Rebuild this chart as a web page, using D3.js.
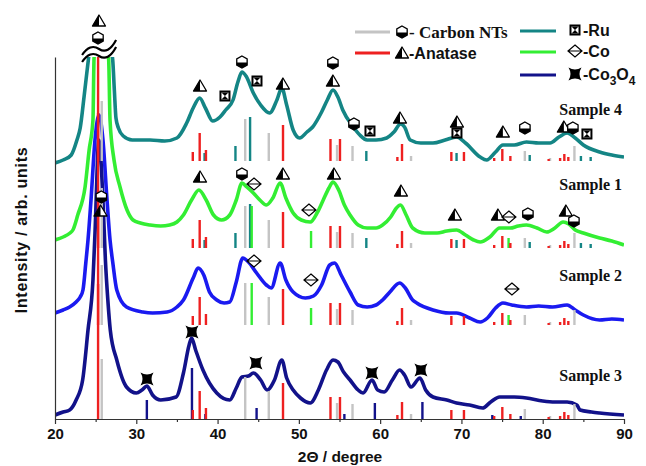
<!DOCTYPE html>
<html><head><meta charset="utf-8">
<script src="https://cdn.jsdelivr.net/npm/d3@7/dist/d3.min.js"></script>
<style>body{margin:0;background:#fff}svg{display:block}</style>
</head><body><svg id="c" width="646" height="466"></svg>
<script>
// ---------- DATA (2θ in degrees, intensity in arb. units) ----------
const xTicks = [20, 30, 40, 50, 60, 70, 80, 90];
const xMinorTicks = [25, 35, 45, 55, 65, 75, 85];

const sample4 = [[20.0,256],[21.0,259],[22.0,264],[22.7,279],[23.1,291],[23.6,324],[24.1,359],[24.6,390],[25.3,420],[26.4,390],[27.1,359],[27.3,329],[27.5,301],[27.8,291],[28.4,283],[29.5,279],[31.7,279],[33.5,278],[35.0,281],[36.2,296],[37.0,311],[37.8,321],[38.5,311],[39.4,298],[40.3,302],[41.0,309],[41.9,319],[42.5,337],[43.0,347],[43.5,343],[44.4,326],[45.3,314],[46.4,306],[47.3,319],[47.9,331],[48.5,314],[49.3,289],[50.1,281],[51.0,287],[51.7,292],[52.8,307],[53.5,319],[54.2,329],[54.8,322],[55.4,309],[56.7,292],[57.5,284],[58.4,279],[59.5,279],[60.8,281],[61.7,287],[62.5,295],[63.0,292],[63.7,279],[65.0,276],[66.5,276],[68.0,279],[69.4,282],[70.5,276],[72.3,262],[73.1,259],[74.2,267],[75.1,274],[76.5,274],[78.0,277],[79.5,276],[80.9,276],[82.0,282],[83.0,286],[84.0,281],[85.0,274],[87.0,267],[88.5,264],[90.0,262]];

const sample1 = [[20.0,179],[21.0,182],[21.85,186],[22.2,189],[22.8,204],[23.7,232],[24.2,269],[24.67,299],[24.8,360],[25.4,420],[26.6,360],[26.77,299],[27.26,259],[28.0,232],[28.86,209],[29.6,199],[30.5,196],[31.7,194],[33.0,193],[34.1,194],[35.0,197],[35.8,204],[36.8,219],[37.7,229],[38.6,219],[39.5,204],[40.5,199],[41.5,204],[42.3,219],[43.0,236],[43.6,232],[44.4,226],[45.2,219],[46.0,214],[46.8,221],[47.7,236],[48.4,221],[49.3,206],[50.3,199],[51.4,197],[52.3,207],[53.0,219],[53.7,231],[54.2,237],[54.9,229],[55.6,214],[56.3,204],[57.3,194],[58.4,191],[59.5,191],[60.3,194],[61.3,202],[62.0,211],[62.5,214],[63.2,204],[64.0,191],[65.5,186],[67.0,186],[68.2,188],[69.4,189],[70.5,184],[71.5,179],[72.3,177],[73.5,182],[74.7,191],[76.0,191],[77.0,193],[78.0,194],[79.3,191],[80.5,187],[81.5,191],[82.5,197],[83.2,195],[84.0,189],[85.0,186],[87.0,181],[88.5,178],[90.0,174]];

const sample2 = [[20.0,106],[21.0,109],[21.8,112],[22.6,117],[23.1,122],[23.44,129],[23.8,157],[24.06,179],[24.43,219],[24.92,279],[25.41,304],[25.9,279],[26.4,219],[26.77,179],[27.1,157],[27.6,129],[28.8,112],[30.8,107],[32.0,106],[33.8,107],[35.0,112],[35.8,119],[37.0,141],[37.6,151],[38.3,144],[39.0,127],[39.9,119],[40.8,116],[41.5,117],[42.3,137],[43.1,161],[43.8,157],[44.8,146],[46.0,134],[46.6,131],[47.7,156],[48.4,139],[49.3,127],[50.8,121],[51.8,123],[52.8,134],[53.8,154],[54.4,156],[55.2,144],[56.3,127],[57.3,114],[58.4,112],[59.5,114],[60.3,119],[61.2,127],[62.4,136],[63.1,131],[64.0,119],[64.5,116],[66.5,109],[68.5,106],[69.4,106],[71.0,101],[72.3,97],[73.2,101],[74.2,111],[75.1,116],[76.2,114],[78.0,112],[79.5,113],[81.2,112],[83.0,114],[84.0,109],[85.0,104],[87.0,99],[88.5,100],[90.0,99]];

const sample3 = [[20.0,4],[21.0,7],[21.8,9],[22.6,19],[23.4,39],[24.06,89],[24.67,139],[24.92,186],[25.4,279],[25.9,219],[26.2,159],[26.5,119],[26.8,89],[27.6,59],[28.8,32],[30.0,26],[30.7,29],[31.3,33],[32.0,24],[33.0,19],[34.9,22],[35.8,46],[36.5,74],[36.8,81],[37.3,69],[38.2,49],[39.9,26],[41.5,19],[42.3,31],[43.0,42],[43.8,43],[44.4,46],[45.3,39],[46.1,29],[47.0,39],[47.9,59],[48.5,41],[49.3,29],[50.2,21],[51.4,16],[52.4,29],[53.4,49],[54.2,59],[54.8,57],[55.5,47],[56.3,39],[57.3,29],[57.9,26],[59.0,39],[59.7,29],[60.5,27],[61.5,39],[62.4,49],[63.0,44],[63.8,32],[64.9,41],[65.6,29],[66.5,22],[68.2,19],[69.4,16],[71.0,14],[72.6,11],[73.6,17],[74.7,22],[76.5,22],[78.0,21],[80.0,18],[81.5,17],[83.0,17],[84.2,14],[84.6,9],[86.0,7],[87.0,6],[90.0,4]];

// reference patterns: [2θ, relative stick height]
const anatase = [[25.3,135],[36.95,9],[37.8,28],[38.57,11],[48.05,36],[53.89,22],[55.06,22],[62.12,4],[62.69,17],[68.76,9],[70.31,9],[74.03,3],[75.03,12],[76.02,5],[80.73,2],[82.14,3],[82.66,7],[83.15,4]];
const carbonNT = [[25.75,60],[43.4,42],[46.3,28],[54.7,16],[56.6,15],[63.8,5],[77.8,10],[80.9,3],[83.9,15]];
const ruthenium = [[38.4,8],[42.2,15],[44.0,44],[58.3,10],[69.4,8],[78.4,6],[84.7,5],[85.9,4]];
const cobalt = [[44.2,42],[51.5,17],[75.8,10]];
const cobaltOxide = [[31.3,19],[36.85,51],[38.5,5],[44.8,11],[55.6,5],[59.35,16],[65.2,17],[73.8,4],[77.3,3]];

// stick baselines per sample
const sampleNames = ["Sample 4", "Sample 1", "Sample 2", "Sample 3"];
const stickBase = [258, 171, 94, 0];
const labelLevel = [304, 229, 138, 38];

// peak-assignment symbols: [symbol, 2θ, intensity]
const markers = [
  ["tri",25.41,398],["hex",25.29,381],
  ["tri",37.84,333],["ru",40.91,323],["hex",43.0,357],["ru",44.85,338],["tri",48.04,335],["hex",54.19,356],["tri",54.19,338],
  ["hex",56.78,295],["ru",58.75,288],["tri",62.44,301],["tri",69.45,297],["ru",69.45,286],["tri",75.1,287],["hex",77.81,291],
  ["tri",82.6,292],["hex",83.71,291],["ru",85.44,285],
  ["tri",37.84,242],["hex",43.0,245],["co",44.48,235],["tri",48.04,245],["co",51.24,209],["tri",54.32,245],["tri",62.56,228],
  ["tri",69.2,204],["tri",74.49,204],["co",75.84,202],["hex",78.18,205],["tri",82.85,208],["hex",83.84,198],
  ["hex",25.7,222],["tri",25.6,208],["co",44.48,158],["co",51.49,139],["co",76.21,130],
  ["star",31.32,40],["star",36.85,87],["star",44.72,56],["star",58.99,46],["star",65.02,49]
];

const colors = {s4:"#148585", s1:"#33ee33", s2:"#1a1af0", s3:"#12128a", red:"#ee2020", grey:"#c4c4c4"};

// ---------- CHART ----------
const svg = d3.select("#c");
const x = d3.scaleLinear().domain([20, 90]).range([55, 624]);
const y = d3.scaleLinear().domain([0, 362]).range([419, 57]);

svg.append("defs").append("clipPath").attr("id", "clip")
  .append("rect").attr("x", 55).attr("y", 57).attr("width", 569).attr("height", 362);

const plot = svg.append("g").attr("clip-path", "url(#clip)");
const line = d3.line().x(d => x(d[0])).y(d => y(d[1])).curve(d3.curveMonotoneX);

const traces = [[sample4, colors.s4], [sample1, colors.s1], [sample2, colors.s2], [sample3, colors.s3]];
traces.forEach(([data, col]) => {
  plot.append("path").datum(data).attr("d", line)
    .attr("fill", "none").attr("stroke", col).attr("stroke-width", 3.6)
    .attr("stroke-linejoin", "round");
});

// stick patterns
const sampleSets = [
  [[carbonNT, colors.grey], [ruthenium, colors.s4], [anatase, colors.red]],
  [[carbonNT, colors.grey], [ruthenium, colors.s4], [cobalt, colors.s1], [anatase, colors.red]],
  [[carbonNT, colors.grey], [cobalt, colors.s1], [anatase, colors.red]],
  [[carbonNT, colors.grey], [cobaltOxide, colors.s3], [anatase, colors.red]]
];
sampleSets.forEach((sets, i) => {
  const base = stickBase[i];
  sets.forEach(([pat, col]) => {
    plot.append("g").selectAll("line").data(pat).join("line")
      .attr("x1", d => x(d[0])).attr("x2", d => x(d[0]))
      .attr("y1", y(base)).attr("y2", d => y(base + d[1]))
      .attr("stroke", col).attr("stroke-width", 2.4);
  });
});

// axes
const axB = svg.append("g").attr("transform", `translate(0,${y(0)})`)
  .call(d3.axisBottom(x).tickValues(xTicks).tickSize(5).tickSizeOuter(0).tickPadding(4));
axB.select(".domain").attr("stroke", "#333").attr("stroke-width", 1.2);
axB.selectAll(".tick line").attr("stroke", "#333").attr("stroke-width", 1.2);
axB.selectAll("text").attr("font-family", "Liberation Sans, Arial, sans-serif")
  .attr("font-weight", "bold").attr("font-size", "15px").attr("fill", "#111");
const axM = svg.append("g").attr("transform", `translate(0,${y(0)})`)
  .call(d3.axisBottom(x).tickValues(xMinorTicks).tickSize(3).tickFormat(""));
axM.select(".domain").remove();
axM.selectAll(".tick line").attr("stroke", "#333").attr("stroke-width", 1.2);

const axL = svg.append("g").attr("transform", `translate(${x(20)},0)`)
  .call(d3.axisLeft(y).tickValues([]).tickSizeOuter(0));
axL.select(".domain").attr("stroke", "#333").attr("stroke-width", 1.2);

svg.append("text").attr("x", 340).attr("y", 462).attr("text-anchor", "middle")
  .attr("font-family", "Liberation Sans, Arial, sans-serif").attr("font-weight", "bold")
  .attr("font-size", "15.5px").attr("fill", "#111").text("2Θ / degree");
svg.append("text").attr("transform", "translate(27,230) rotate(-90)").attr("text-anchor", "middle")
  .attr("font-family", "Liberation Sans, Arial, sans-serif").attr("font-weight", "bold")
  .attr("font-size", "16px").attr("letter-spacing", "0.7px").attr("fill", "#111").text("Intensity / arb. units");

// sample labels
sampleNames.forEach((name, i) => {
  svg.append("text").attr("x", 622).attr("y", y(labelLevel[i])).attr("text-anchor", "end")
    .attr("font-family", "Liberation Serif, Times New Roman, serif").attr("font-weight", "bold")
    .attr("font-size", "16px").attr("fill", "#111").text(name);
});

// symbols
function drawSymbol(g, type) {
  if (type === "tri") {
    g.append("path").attr("d", "M0,-6 L6.5,5 L-6.5,5 Z").attr("fill", "#fff").attr("stroke", "#000").attr("stroke-width", 1.3).attr("stroke-linejoin", "round");
    g.append("path").attr("d", "M0,-6 L0,5 L-6.5,5 Z").attr("fill", "#000");
  } else if (type === "hex") {
    g.append("path").attr("d", "M0,-6 L5.2,-3 L5.2,3 L0,6 L-5.2,3 L-5.2,-3 Z").attr("fill", "#fff").attr("stroke", "#000").attr("stroke-width", 1.3);
    g.append("path").attr("d", "M-5.2,0.6 L5.2,0.6 L5.2,3 L0,6 L-5.2,3 Z").attr("fill", "#000");
  } else if (type === "ru") {
    g.append("rect").attr("x", -4.5).attr("y", -4.5).attr("width", 9).attr("height", 9).attr("fill", "#fff").attr("stroke", "#000").attr("stroke-width", 2);
    g.append("path").attr("d", "M-3.5,-3.5 L3.5,-3.5 L0,0 Z M-3.5,3.5 L3.5,3.5 L0,0 Z").attr("fill", "#000");
  } else if (type === "co") {
    g.append("path").attr("d", "M0,-6 L7,0 L0,6 L-7,0 Z M-7,0 L7,0").attr("fill", "#fff").attr("stroke", "#000").attr("stroke-width", 1.2);
  } else if (type === "star") {
    g.append("path").attr("d", "M-6.5,-6.5 Q0,-2.5 6.5,-6.5 Q2.5,0 6.5,6.5 Q0,2.5 -6.5,6.5 Q-2.5,0 -6.5,-6.5 Z").attr("fill", "#000");
  }
}
markers.forEach(([t, th, v]) => {
  const g = svg.append("g").attr("transform", `translate(${x(th)},${y(v)})`);
  drawSymbol(g, t);
});

// axis break mark on the clipped 25° peak
const bx = x(25.3), by = y(362);
[0, 7].forEach(off => {
  svg.append("path")
    .attr("d", `M${bx-16},${by-2+off} Q${bx-8},${by-14+off} ${bx+1},${by-8+off} T${bx+18},${by-17+off}`)
    .attr("fill", "none").attr("stroke", "#000").attr("stroke-width", 2.2);
});

// legend
const legL = [[colors.grey, "hex", "- Carbon NTs", "serif"], [colors.red, "tri", "-Anatase", "sans"]];
const legR = [[colors.s4, "ru", "-Ru"], [colors.s1, "co", "-Co"], [colors.s3, "star", null]];
legL.forEach(([col, sym, txt, fam], i) => {
  const yy = 32 + i * 21;
  svg.append("line").attr("x1", 355).attr("x2", 390).attr("y1", yy).attr("y2", yy).attr("stroke", col).attr("stroke-width", 3);
  drawSymbol(svg.append("g").attr("transform", `translate(402,${yy})`), sym);
  svg.append("text").attr("x", 409).attr("y", yy + 6)
    .attr("font-family", fam === "serif" ? "Liberation Serif, Times New Roman, serif" : "Liberation Sans, Arial, sans-serif")
    .attr("font-weight", "bold").attr("font-size", fam === "serif" ? "17px" : "16px").attr("fill", "#111").text(txt);
});
legR.forEach(([col, sym, txt], i) => {
  const yy = [31, 52, 75][i];
  svg.append("line").attr("x1", 520).attr("x2", 556).attr("y1", yy).attr("y2", yy).attr("stroke", col).attr("stroke-width", 3);
  drawSymbol(svg.append("g").attr("transform", `translate(575,${yy - 1})`), sym);
  const t = svg.append("text").attr("x", 583).attr("y", yy + 5)
    .attr("font-family", "Liberation Sans, Arial, sans-serif").attr("font-weight", "bold")
    .attr("font-size", "16px").attr("fill", "#111");
  if (txt) t.text(txt);
  else {
    t.append("tspan").text("-Co");
    t.append("tspan").attr("dy", 5).attr("font-size", "12px").text("3");
    t.append("tspan").attr("dy", -5).text("O");
    t.append("tspan").attr("dy", 5).attr("font-size", "12px").text("4");
  }
});
</script></body></html>
